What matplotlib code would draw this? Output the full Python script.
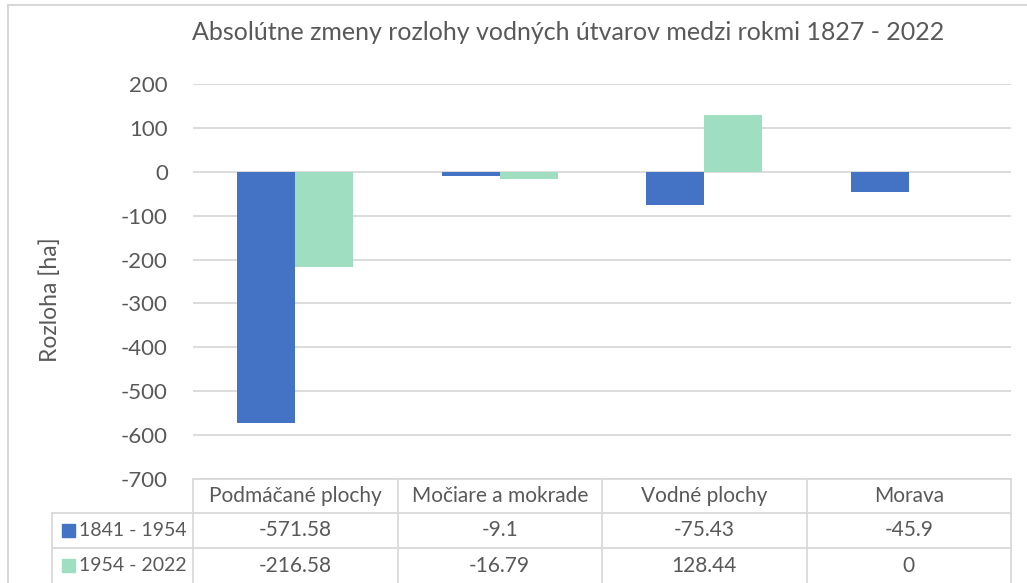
import matplotlib
matplotlib.use("Agg")
import matplotlib.pyplot as plt
from matplotlib.lines import Line2D
from matplotlib.patches import Rectangle
import numpy as np

# data
categories = ["Podmáčané plochy", "Močiare a mokrade", "Vodné plochy", "Morava"]
series_names = ["1841 - 1954", "1954 - 2022"]
values_1841_1954 = [-571.58, -9.1, -75.43, -45.9]
values_1954_2022 = [-216.58, -16.79, 128.44, 0]
value_labels_1841_1954 = ["-571.58", "-9.1", "-75.43", "-45.9"]
value_labels_1954_2022 = ["-216.58", "-16.79", "128.44", "0"]
yticks = [200, 100, 0, -100, -200, -300, -400, -500, -600, -700]

BLUE = "#4472C4"
GREEN = "#9FDEC0"
GRID = "#D9D9D9"
TXT = "#595959"
FONT = "Lato"

W, H = 1027, 583
fig = plt.figure(figsize=(W / 100, H / 100), dpi=100)
plt.rcParams['font.family'] = [FONT, 'DejaVu Sans']


def fx(px):
    return px / W


def fy(py):
    return 1 - py / H


# plot area in pixels
left, right, top, bottom = 193, 1011, 84, 479
ax = fig.add_axes([fx(left), fy(bottom), fx(right - left), (bottom - top) / H])

x = np.arange(len(categories)) + 0.5
bw = 58 / 204.5
ax.bar(x - bw / 2, values_1841_1954, bw, color=BLUE, zorder=3)
ax.bar(x + bw / 2, values_1954_2022, bw, color=GREEN, zorder=3)

ax.set_xlim(0, len(categories))
ax.set_ylim(-700, 200)
ax.set_yticks(yticks)
ax.set_yticklabels([str(t) for t in yticks], fontsize=16, color=TXT)
ax.tick_params(axis='y', length=0, pad=18)
ax.set_xticks([])
ax.yaxis.grid(True, color=GRID, linewidth=1.3, zorder=0)
for s in ax.spines.values():
    s.set_visible(False)

# title and axis label
fig.text(fx(568), fy(33), "Absolútne zmeny rozlohy vodných útvarov medzi rokmi 1827 - 2022",
         ha='center', va='center', fontsize=18, color=TXT)
fig.text(fx(50), fy(300), "Rozloha [ha]", rotation=90, ha='center', va='center',
         fontsize=16.5, color=TXT)

# outer chart border (left and top visible)
fig.add_artist(Line2D([fx(8), fx(8)], [fy(5), 0], color=GRID, lw=1.5))
fig.add_artist(Line2D([fx(8), 1], [fy(5), fy(5)], color=GRID, lw=1.5))

# data table
col_edges = [left + i * (right - left) / len(categories) for i in range(len(categories) + 1)]
row_edges = [479, 513, 548, 583]
leg_left = 52


def hline(xa, xb, yy):
    fig.add_artist(Line2D([fx(xa), fx(xb)], [fy(yy), fy(yy)], color=GRID, lw=1.3))


def vline(xx, ya, yb):
    fig.add_artist(Line2D([fx(xx), fx(xx)], [fy(ya), fy(yb)], color=GRID, lw=1.3))


hline(left, right, row_edges[0])
hline(leg_left, right, row_edges[1])
hline(leg_left, right, row_edges[2])
vline(leg_left, row_edges[1], H + 5)
for ce in col_edges:
    vline(ce, row_edges[0], H + 5)

for i, cat in enumerate(categories):
    cx = (col_edges[i] + col_edges[i + 1]) / 2
    fig.text(fx(cx), fy((row_edges[0] + row_edges[1]) / 2), cat, ha='center', va='center',
             fontsize=15, color=TXT)

rows = [(series_names[0], BLUE, value_labels_1841_1954),
        (series_names[1], GREEN, value_labels_1954_2022)]
for r, (name, col, labels) in enumerate(rows):
    cy = (row_edges[r + 1] + row_edges[r + 2]) / 2
    fig.add_artist(Rectangle((fx(62), fy(cy + 6.5)), fx(13), 13 / H, color=col))
    fig.text(fx(79), fy(cy), name, ha='left', va='center', fontsize=14, color=TXT)
    for i, lab in enumerate(labels):
        cx = (col_edges[i] + col_edges[i + 1]) / 2
        fig.text(fx(cx), fy(cy), lab, ha='center', va='center', fontsize=15, color=TXT)

fig.savefig("out.png", dpi=100)
